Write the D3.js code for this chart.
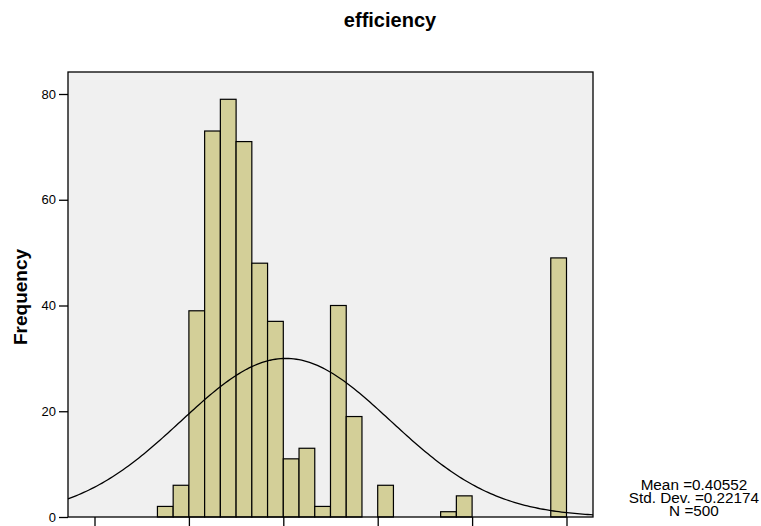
<!DOCTYPE html>
<html>
<head>
<meta charset="utf-8">
<script src="https://cdn.jsdelivr.net/npm/d3@7"></script>
<style>
  html, body { margin: 0; padding: 0; background: #ffffff; }
  svg { display: block; font-family: Arial, "Liberation Sans", sans-serif; }
</style>
</head>
<body>
<svg id="chart" width="761" height="526"></svg>
<script>
// ---- data ----
const title = "efficiency";
const yLabel = "Frequency";
const binWidth = 1 / 30;
const binStarts = [4/30, 5/30, 6/30, 7/30, 8/30, 9/30, 10/30, 11/30, 12/30, 13/30, 14/30, 15/30, 16/30, 18/30, 22/30, 23/30, 29/30];
const binCounts = [2, 6, 39, 73, 79, 71, 48, 37, 11, 13, 2, 40, 19, 6, 1, 4, 49];
const xTicks = [0.0, 0.2, 0.4, 0.6, 0.8, 1.0];
const yTicks = [0, 20, 40, 60, 80];
const statMean = 0.40552;
const statSD = 0.22174;
const statN = 500;
const statLines = ["Mean =0.40552", "Std. Dev. =0.22174", "N =500"];

// ---- layout ----
const svg = d3.select("#chart");
const plot = { left: 68, right: 593, top: 72, bottom: 517 };

const x = d3.scaleLinear().domain([0, 1]).range([94.5, 566.5]);
const y = d3.scaleLinear().domain([0, 80]).range([plot.bottom, plot.bottom - 80 * 5.2875]);

// plot background
svg.append("rect")
  .attr("x", plot.left).attr("y", plot.top)
  .attr("width", plot.right - plot.left).attr("height", plot.bottom - plot.top)
  .attr("fill", "#f0f0f0");

// bars
svg.append("g").selectAll("rect")
  .data(binStarts.map((s, i) => ({ s, c: binCounts[i] })))
  .join("rect")
  .attr("x", d => x(d.s))
  .attr("y", d => y(d.c))
  .attr("width", d => x(d.s + binWidth) - x(d.s))
  .attr("height", d => y(0) - y(d.c))
  .attr("fill", "#d3cf98")
  .attr("stroke", "#000")
  .attr("stroke-width", 1.2);

// normal curve
const x0 = x.invert(plot.left), x1 = x.invert(plot.right);
const curvePts = d3.range(0, 201).map(i => {
  const v = x0 + (x1 - x0) * i / 200;
  const z = (v - statMean) / statSD;
  const f = statN * binWidth * Math.exp(-0.5 * z * z) / (statSD * Math.sqrt(2 * Math.PI));
  return [x(v), y(f)];
});
svg.append("path")
  .attr("d", d3.line()(curvePts))
  .attr("fill", "none")
  .attr("stroke", "#000")
  .attr("stroke-width", 1.3);

// frame
svg.append("rect")
  .attr("x", plot.left).attr("y", plot.top)
  .attr("width", plot.right - plot.left).attr("height", plot.bottom - plot.top)
  .attr("fill", "none")
  .attr("stroke", "#000")
  .attr("stroke-width", 1.3);

// y axis
const yAxis = d3.axisLeft(y).tickValues(yTicks).tickSize(9).tickPadding(3).tickFormat(d3.format("d"));
const yg = svg.append("g").attr("transform", `translate(${plot.left},0)`).call(yAxis);
yg.select(".domain").remove();
yg.selectAll("line").attr("stroke", "#000").attr("stroke-width", 1.3);
yg.selectAll("text").attr("font-size", 13).attr("font-family", "Arial, 'Liberation Sans', sans-serif").attr("fill", "#000");

// x axis (labels fall outside the picture)
const xAxis = d3.axisBottom(x).tickValues(xTicks).tickSize(9).tickFormat("");
const xg = svg.append("g").attr("transform", `translate(0,${plot.bottom})`).call(xAxis);
xg.select(".domain").remove();
xg.selectAll("line").attr("stroke", "#000").attr("stroke-width", 1.3);

// title
svg.append("text")
  .attr("x", 390).attr("y", 27)
  .attr("text-anchor", "middle")
  .attr("font-size", 20).attr("font-weight", "bold")
  .text(title);

// y label
svg.append("text")
  .attr("transform", `translate(27,297) rotate(-90)`)
  .attr("text-anchor", "middle")
  .attr("font-size", 19).attr("font-weight", "bold")
  .text(yLabel);

// stats
svg.append("g").selectAll("text")
  .data(statLines)
  .join("text")
  .attr("x", 694)
  .attr("y", (d, i) => 490 + i * 13)
  .attr("text-anchor", "middle")
  .attr("font-size", 15.3)
  .text(d => d);
</script>
</body>
</html>
